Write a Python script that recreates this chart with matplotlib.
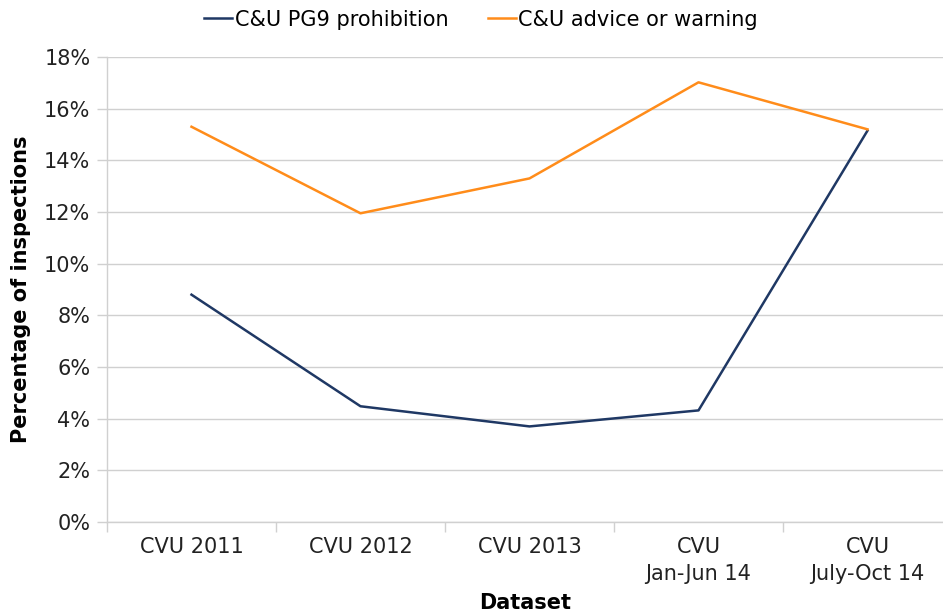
import matplotlib.pyplot as plt
import numpy as np

categories = ["CVU 2011", "CVU 2012", "CVU 2013", "CVU\nJan-Jun 14", "CVU\nJuly-Oct 14"]
prohibition = [8.8, 4.48, 3.7, 4.32, 15.15]
advice = [15.3, 11.95, 13.3, 17.02, 15.2]
yticks = [0, 2, 4, 6, 8, 10, 12, 14, 16, 18]

plt.rcParams['font.family'] = ['DejaVu Sans']
grid_c = '#D0D0D0'

fig = plt.figure(figsize=(9.43, 6.16), dpi=100)
ax = fig.add_axes([107/943, 94/616, 1 - 107/943, 465/616])

x = np.arange(len(categories))
ax.plot(x, prohibition, color='#1F3864', lw=1.8, label='C&U PG9 prohibition')
ax.plot(x, advice, color='#FF8C1A', lw=1.8, label='C&U advice or warning')

ax.set_ylim(0, 18)
ax.set_yticks(yticks)
ax.set_yticklabels([f"{v}%" for v in yticks], fontsize=15, color='#222222')
ax.set_xlim(-0.5, 4.5 - 9/169)
ax.set_xticks(x)
ax.set_xticklabels(categories, fontsize=15, color='#222222', linespacing=1.45)
ax.set_xticks(np.arange(-0.5, 4.5, 1.0), minor=True)
ax.tick_params(axis='x', which='major', length=0, pad=11)
ax.tick_params(axis='x', which='minor', length=7, color=grid_c, width=1)
ax.tick_params(axis='y', length=7, color=grid_c, width=1, pad=5)

ax.grid(axis='y', color=grid_c, lw=1)
ax.set_axisbelow(True)
for s in ['top', 'right']:
    ax.spines[s].set_visible(False)
for s in ['left', 'bottom']:
    ax.spines[s].set_color(grid_c)
    ax.spines[s].set_linewidth(1)

ax.set_ylabel('Percentage of inspections', fontsize=15, fontweight='bold', labelpad=9)
ax.set_xlabel('Dataset', fontsize=15, fontweight='bold', labelpad=6)

fig.legend(loc='upper center', bbox_to_anchor=(0.51, 1.015), ncol=2, frameon=False,
           fontsize=15, handlelength=1.35, handletextpad=0.1, columnspacing=1.9)

fig.savefig('out.png', dpi=100)
